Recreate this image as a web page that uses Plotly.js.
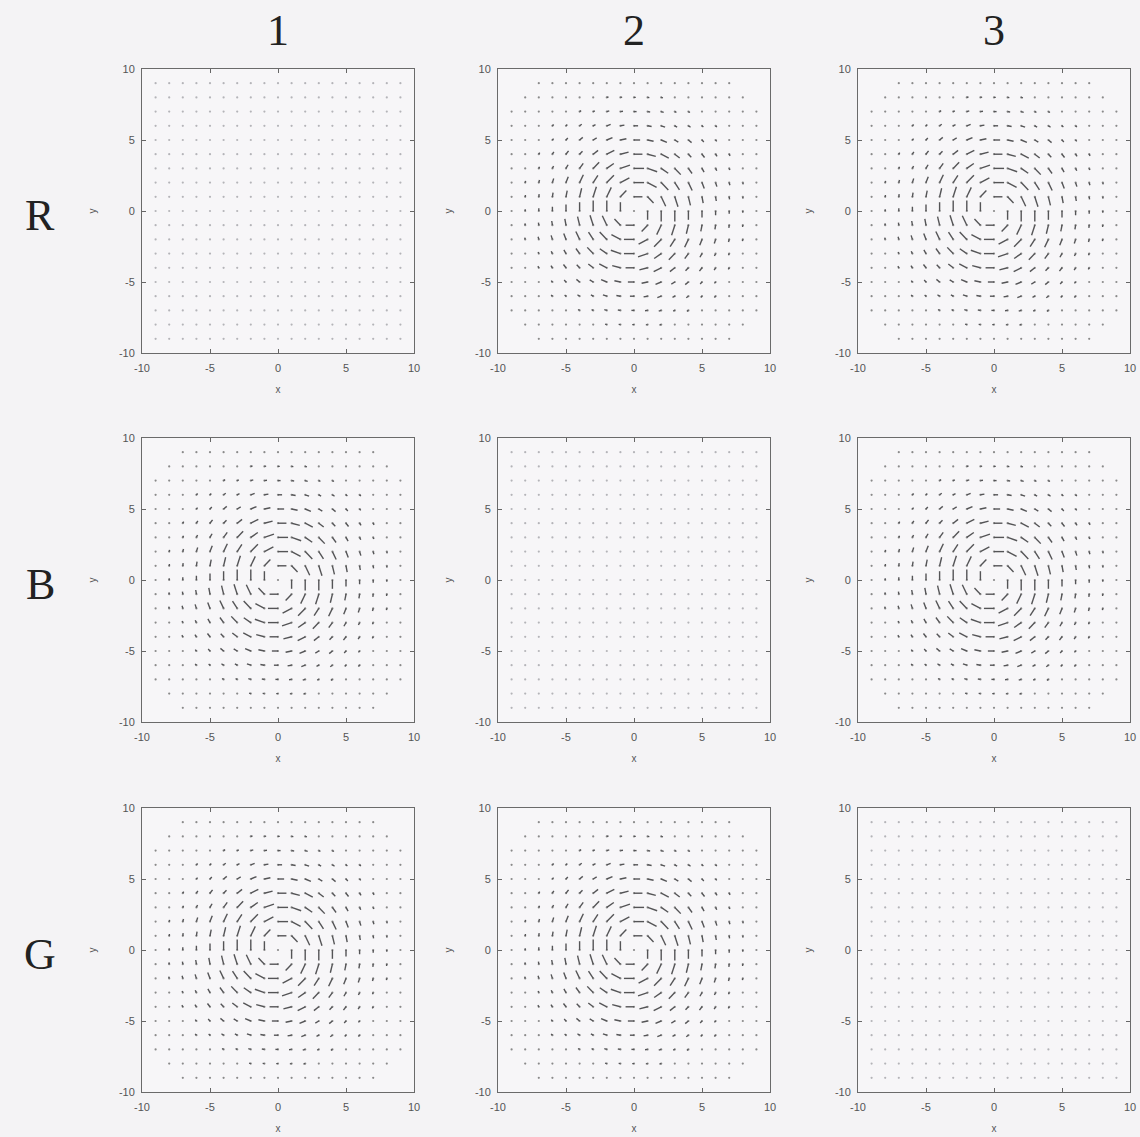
<!DOCTYPE html>
<html>
<head>
<meta charset="utf-8">
<script src="https://cdn.plot.ly/plotly-3.0.1.min.js"></script>
<style>
  html, body { margin: 0; padding: 0; background: #f4f3f5; }
  #chart { width: 1140px; height: 1137px; }
</style>
</head>
<body>
<div id="chart"></div>
<script>
// Sample grid of the flow field (both axes)
const gridCoords = [-9, -8, -7, -6, -5, -4, -3, -2, -1, 0, 1, 2, 3, 4, 5, 6, 7, 8, 9];
// Largest |x| sampled on each grid row, rows y = -9 .. 9
const rowSpan = [7, 8, 9, 9, 9, 9, 9, 9, 9, 9, 9, 9, 9, 9, 9, 9, 9, 8, 7];
// Vector length (axis units) on each ring of the vortex, ring radius 0 .. 13
const ringSpeed = [0.05, 0.62, 0.74, 0.74, 0.62, 0.45, 0.3, 0.19, 0.13, 0.1, 0.08, 0.07, 0.06, 0.06];
// Row and column headings
const rowNames = ['R', 'B', 'G'];
const colNames = ['1', '2', '3'];
// Vortex strength per panel (row, column); the diagonal holds no flow
const panelGain = [
  [0, 1, 1],
  [1, 0, 1],
  [1, 1, 0]
];
const axisTicks = [-10, -5, 0, 5, 10];

// Panel placement on the page (pixels)
const W = 1140, H = 1137;
const colLeft = [142, 498, 858], colWidth = 272;
const rowTop = [69, 438, 808], rowHeight = 284;

const traces = [];
const layout = {
  width: W, height: H,
  margin: {l: 0, r: 0, t: 0, b: 0},
  paper_bgcolor: '#f4f3f5',
  plot_bgcolor: '#f7f6f8',
  showlegend: false,
  font: {family: 'Liberation Sans, Arial, sans-serif', color: '#555'},
  annotations: []
};

function axisStyle(domain, anchor, titleText, isX) {
  return {
    domain: domain,
    anchor: anchor,
    range: [-10, 10],
    tickvals: axisTicks,
    ticktext: axisTicks.map(String),
    ticks: 'inside',
    ticklen: 4,
    tickcolor: '#666',
    ticklabelstandoff: isX ? 5 : 4,
    showline: true,
    linecolor: '#6a6a6a',
    linewidth: 1,
    mirror: 'ticks',
    showgrid: false,
    zeroline: false,
    fixedrange: true,
    tickfont: {size: 11, color: '#555'},
    title: {text: titleText, font: {size: 10, color: '#555'}, standoff: isX ? 12 : 20}
  };
}

let n = 0;
for (let r = 0; r < 3; r++) {
  for (let c = 0; c < 3; c++) {
    n++;
    const xa = n === 1 ? 'x' : 'x' + n;
    const ya = n === 1 ? 'y' : 'y' + n;
    const gain = panelGain[r][c];

    const xd = [colLeft[c] / W, (colLeft[c] + colWidth) / W];
    const yd = [1 - (rowTop[r] + rowHeight) / H, 1 - rowTop[r] / H];
    layout[(n === 1 ? 'xaxis' : 'xaxis' + n)] = axisStyle(xd, ya, 'x', true);
    layout[(n === 1 ? 'yaxis' : 'yaxis' + n)] = axisStyle(yd, xa, 'y', false);

    const segX = [], segY = [], dotX = [], dotY = [];
    gridCoords.forEach((gy, j) => {
      const span = gain > 0 ? rowSpan[j] : 9;
      gridCoords.forEach(gx => {
        if (Math.abs(gx) > span) return;
        dotX.push(gx); dotY.push(gy);
        const rad = Math.hypot(gx, gy);
        if (rad === 0) return;
        const ring = Math.min(ringSpeed.length - 1, Math.round(rad));
        const len = ringSpeed[ring] * gain;
        if (len < 0.12) return;
        // clockwise circulation, tail at the grid point
        segX.push(gx, gx + len * gy / rad, null);
        segY.push(gy, gy - len * gx / rad, null);
      });
    });

    traces.push({
      type: 'scatter', mode: 'markers', xaxis: xa, yaxis: ya,
      x: dotX, y: dotY, hoverinfo: 'skip',
      marker: {size: 2.2, color: gain > 0 ? '#8a8a8a' : '#b4b4b8'}
    });
    if (segX.length) {
      traces.push({
        type: 'scatter', mode: 'lines', xaxis: xa, yaxis: ya,
        x: segX, y: segY, hoverinfo: 'skip',
        line: {color: '#545456', width: 1.4}
      });
    }
  }
}

// Column headings
colNames.forEach((t, c) => {
  layout.annotations.push({
    text: t, xref: 'paper', yref: 'paper',
    x: (colLeft[c] + colWidth / 2) / W, y: 1 - 30 / H,
    showarrow: false, xanchor: 'center', yanchor: 'middle',
    font: {family: 'Liberation Serif, DejaVu Serif, serif', size: 44, color: '#222'}
  });
});
// Row headings
rowNames.forEach((t, r) => {
  layout.annotations.push({
    text: t, xref: 'paper', yref: 'paper',
    x: 40 / W, y: 1 - (rowTop[r] + rowHeight / 2 + 4) / H,
    showarrow: false, xanchor: 'center', yanchor: 'middle',
    font: {family: 'Liberation Serif, DejaVu Serif, serif', size: 44, color: '#222'}
  });
});

Plotly.newPlot('chart', traces, layout, {staticPlot: true, displayModeBar: false});
</script>
</body>
</html>
